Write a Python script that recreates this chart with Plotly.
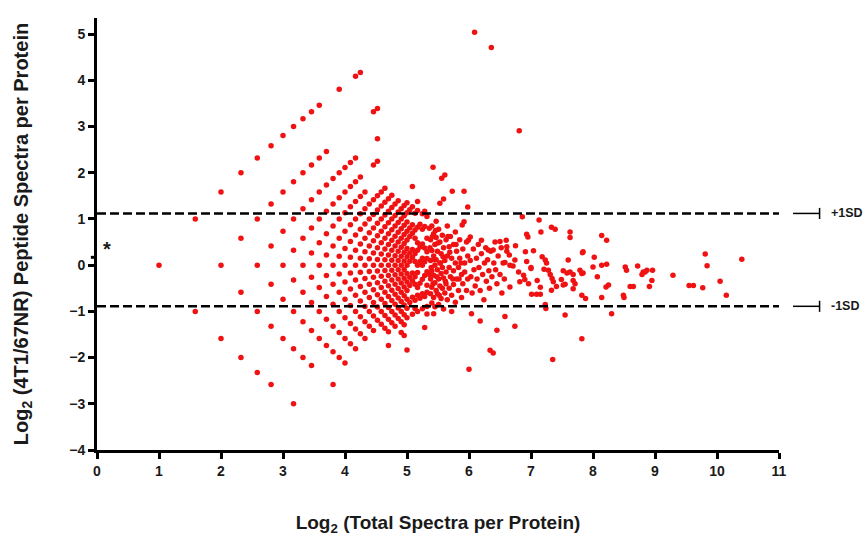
import numpy as np
import plotly.graph_objects as go

# ---- data: spectral-count lattice (total spectra, 4T1 spectra) ----
lattice_totals = [2, 3, 4, 5, 6, 7, 8, 9, 10, 11, 12, 13, 14, 15, 16, 17, 18, 19, 20,
                  21, 22, 23, 24, 25, 26, 27, 28, 29, 30, 31, 32, 33, 34, 35, 36, 37, 38, 39, 40]
lattice_4T1 = [
    [1],
    [2, 1],
    [3, 2, 1],
    [4, 3, 2, 1],
    [5, 4, 3, 2, 1],
    [6, 5, 4, 3, 2, 1],
    [7, 6, 5, 4, 3, 2],
    [8, 7, 6, 5, 4, 3, 2, 1],
    [9, 8, 7, 6, 5, 4, 3, 2],
    [10, 9, 8, 7, 6, 5, 4, 3, 2],
    [11, 10, 9, 8, 7, 6, 5, 4, 3],
    [11, 10, 9, 8, 7, 6, 5, 4, 3],
    [11, 10, 9, 8, 7, 6, 5, 4, 3, 2],
    [14, 12, 11, 10, 9, 8, 7, 6, 5, 4, 3],
    [13, 12, 11, 10, 9, 8, 7, 6, 5, 4, 3],
    [14, 13, 12, 11, 10, 9, 8, 7, 6, 5, 4],
    [17, 15, 14, 13, 12, 11, 10, 9, 8, 7, 6, 5, 4],
    [18, 15, 14, 13, 12, 11, 10, 9, 8, 7, 6, 5],
    [15, 14, 13, 12, 11, 10, 9, 8, 7, 6, 5],
    [15, 14, 13, 12, 11, 10, 9, 8, 7, 6],
    [20, 18, 16, 15, 14, 13, 12, 11, 10, 9, 8, 7, 6],
    [21, 20, 19, 17, 16, 15, 14, 13, 12, 11, 10, 9, 8, 7],
    [18, 17, 16, 15, 14, 13, 12, 11, 10, 9, 8, 7],
    [19, 18, 17, 16, 15, 14, 13, 12, 11, 10, 9, 8, 7],
    [19, 18, 17, 16, 15, 14, 13, 12, 11, 10, 9, 8, 7, 6],
    [20, 19, 18, 17, 16, 15, 14, 13, 12, 11, 10, 9, 8],
    [20, 19, 18, 17, 16, 15, 14, 13, 12, 11, 10, 9, 8],
    [21, 20, 19, 18, 17, 16, 15, 14, 13, 12, 11, 10, 9],
    [21, 20, 19, 18, 17, 16, 15, 14, 13, 12, 11, 10, 9, 8],
    [22, 21, 20, 19, 18, 17, 16, 15, 14, 13, 12, 11, 10, 9, 8],
    [23, 22, 21, 20, 19, 18, 17, 16, 15, 14, 13, 12, 11, 10, 7],
    [23, 21, 20, 18, 17, 15, 14, 12],
    [26, 24, 22, 21, 19, 18, 16, 15, 13, 11],
    [24, 22, 21, 19, 18, 16, 15, 13, 12],
    [26, 25, 23, 21, 20, 18, 17, 15, 14, 12],
    [24, 21, 19, 16, 14],
    [26, 24, 22, 20, 19, 17, 15, 13],
    [27, 25, 22, 20, 18, 15, 11],
    [27, 24, 22, 21, 19, 17, 16, 14, 13],
]

# ---- data: higher-abundance proteins, read directly as (log2 total, log2 ratio) ----
hi_log2_total = [
    5.38, 5.38, 5.38, 5.38, 5.40, 5.40, 5.40, 5.40, 5.40, 5.43, 5.43, 5.43, 5.43, 5.43,
    5.45, 5.45, 5.45, 5.45, 5.47, 5.47, 5.47, 5.47, 5.49, 5.49, 5.49, 5.51, 5.51, 5.51,
    5.53, 5.53, 5.53, 5.55, 5.55, 5.55, 5.57, 5.57, 5.57, 5.59, 5.59, 5.59, 5.61, 5.61,
    5.63, 5.63, 5.63, 5.65, 5.65, 5.65, 5.68, 5.68, 5.68, 5.70, 5.70, 5.72, 5.72, 5.72,
    5.75, 5.75, 5.75, 5.78, 5.78, 5.78, 5.80, 5.80, 5.83, 5.83, 5.85, 5.85, 5.88, 5.88,
    5.90, 5.90, 5.93, 5.93, 5.96, 5.96, 5.98, 5.98,
    5.36, 5.36, 5.37, 5.39, 5.41, 5.42, 5.44, 5.46, 5.48, 5.50, 5.52, 5.54, 5.58, 5.62,
    5.66, 5.69, 5.74, 5.79, 5.84, 5.87,
    5.42, 5.56, 5.61, 5.73, 5.92, 5.53, 5.59, 5.89, 5.92, 5.98,
    6.02, 5.99, 6.04, 6.18, 6.45, 6.34, 6.39, 6.00,
    6.02, 6.03, 6.05, 6.07, 6.08, 6.10, 6.12, 6.13, 6.15, 6.16, 6.18, 6.20, 6.22, 6.24,
    6.25, 6.27, 6.28, 6.30, 6.32, 6.33, 6.35, 6.37, 6.40, 6.42, 6.43, 6.45, 6.47, 6.50,
    6.52, 6.53, 6.55, 6.57, 6.50, 6.61, 6.31, 6.39, 6.20,
    6.60, 6.75, 6.65, 6.58, 6.71, 6.66, 6.58, 6.74, 6.66, 6.61, 6.74,
    6.86, 7.13, 7.16, 7.33, 7.39, 7.63, 7.63, 8.14, 8.22, 6.93, 6.95,
    6.91, 7.04, 6.93, 7.18, 7.23, 7.25, 7.00, 7.00, 6.80, 6.88, 6.90, 6.82, 7.10, 6.96,
    7.15, 7.01, 7.09, 7.15, 7.28, 7.31, 7.34, 7.36, 7.21, 7.33, 7.41, 7.60,
    7.52, 7.58, 7.63, 7.68, 7.52, 7.68, 7.71, 7.68, 7.79, 7.82, 7.84, 7.82, 7.88,
    7.83, 7.84, 8.02, 8.00, 8.07, 8.14, 8.22, 8.14, 8.21, 8.25, 7.55, 7.23, 7.24,
    7.82, 8.30, 8.49, 8.50, 8.52, 8.54, 8.60, 8.65, 8.72, 8.79, 8.81, 7.49, 7.55,
    8.84, 8.87, 8.96, 8.95, 8.91, 9.29, 9.55, 9.62, 9.77, 9.81, 9.84, 10.05, 10.15, 10.40,
    7.35, 6.09, 6.36, 6.81,
]
hi_log2_ratio = [
    0.55, 0.10, -0.30, -0.62, 0.85, 0.32, -0.12, -0.48, -0.82, 0.68, 0.20, -0.22, -0.70, -1.05,
    0.45, 0.00, -0.38, -0.90, 0.95, 0.60, 0.12, -0.55, 0.30, -0.10, -0.62, 0.78, -0.30, -0.85,
    0.50, 0.05, -0.45, 0.25, -0.18, -0.72, 0.65, -0.05, -0.50, 0.38, -0.28, -0.95, 0.10, -0.60,
    0.55, -0.15, -0.40, 0.85, 0.20, -0.75, 0.40, -0.05, -0.50, 0.62, -0.25, 0.15, -0.65, -1.00,
    0.45, -0.12, -0.42, 0.72, 0.05, -0.80, 0.30, -0.30, -0.05, -0.55, 0.55, 0.15, -0.20, -0.70,
    0.35, -0.40, 0.05, -0.15, 0.50, -0.55, -0.30, 0.20,
    0.80, -0.20, 0.38, -0.05, 0.62, -0.40, 0.12, 0.75, -0.25, 0.48, -0.65, 0.05, 0.18, -0.35,
    0.62, 0.28, -0.30, 0.45, -0.30, 0.05,
    2.12, 1.88, 1.95, 1.60, 1.60, 1.34, 1.43, 0.87, 0.94, 1.26,
    0.61, 0.54, -1.05, -1.21, -1.41, -1.84, -1.90, -2.25,
    0.10, -0.25, -0.60, 0.35, -0.10, -0.45, 0.15, -0.30, 0.45, -0.05, -0.55, 0.25, -0.20, -0.75,
    0.05, 0.38, -0.35, 0.12, -0.12, -0.50, 0.30, -0.25, 0.05, 0.50, -0.10, -0.40, 0.20, -0.20,
    0.38, -0.60, 0.05, -0.30, 0.51, 0.40, 0.33, 0.33, 0.54,
    0.54, 0.42, 0.22, 0.06, -0.02, -0.47, -1.11, -1.32, 0.00, 0.30, 0.11,
    1.05, 0.98, 0.72, 0.82, 0.78, 0.72, 0.60, 0.64, 0.54, 0.67, 0.61,
    0.29, 0.31, 0.08, 0.18, 0.11, 0.05, -0.05, -0.07, -0.15, -0.22, -0.31, -0.36, -0.33, -0.40,
    -0.48, -0.63, -0.63, -0.63, -0.11, -0.20, -0.29, -0.36, -0.09, -0.54, -0.46, 0.11,
    -0.12, -0.17, -0.15, -0.20, -0.43, -0.33, -0.40, -0.51, -0.11, -0.18, -0.17, -0.65, -0.72,
    0.27, 0.29, 0.17, -0.04, -0.25, 0.00, 0.02, -0.70, -0.47, -0.43, -1.08, -0.85, -0.94,
    -1.59, -1.05, -0.65, -0.70, -0.04, -0.11, -0.46, -0.46, -0.02, -0.20, -0.15, -0.31, -0.41,
    -0.15, -0.11, -0.11, -0.33, -0.46, -0.22, -0.44, -0.44, -0.49, 0.24, -0.01, -0.35, -0.65, 0.13,
    -2.04, 5.04, 4.71, 2.91,
]

sd_upper = 1.12
sd_lower = -0.89
x_ticks = [0, 1, 2, 3, 4, 5, 6, 7, 8, 9, 10, 11]
y_ticks = [-4, -3, -2, -1, 0, 1, 2, 3, 4, 5]

# ---- derive plotted coordinates from the counts ----
xs, ys = [], []
for n, row in zip(lattice_totals, lattice_4T1):
    for a in row:
        xs.append(float(np.log2(n)))
        ys.append(float(np.log2(a / (n - a))))
xs += hi_log2_total
ys += hi_log2_ratio

fig = go.Figure()
fig.add_trace(go.Scatter(
    x=xs, y=ys, mode="markers",
    marker=dict(size=5.5, color="rgb(240,18,18)", line=dict(width=0)),
    cliponaxis=False, hoverinfo="x+y",
))

FONT = "Liberation Sans, Arial, sans-serif"
INK = "#1a1a1a"
axis_common = dict(
    showline=True, linecolor="black", linewidth=3, mirror=False,
    ticks="outside", ticklen=6, tickwidth=3, tickcolor="black",
    showgrid=False, zeroline=False,
    tickfont=dict(family=FONT, size=14, color=INK, weight="bold"),
)

fig.update_layout(
    width=867, height=538,
    margin=dict(l=97, r=88, t=18, b=88, autoexpand=False),
    paper_bgcolor="white", plot_bgcolor="white",
    showlegend=False,
    xaxis=dict(
        range=[0, 11], tickvals=x_ticks, **axis_common,
        title=dict(text="Log<sub>2</sub> (Total Spectra per Protein)",
                   font=dict(family=FONT, size=19, color=INK, weight="bold"),
                   standoff=38),
    ),
    yaxis=dict(
        range=[-4, 5.35], tickvals=y_ticks, **axis_common,
        title=dict(text="Log<sub>2</sub> (4T1/67NR) Peptide Spectra per Protein",
                   font=dict(family=FONT, size=20, color=INK, weight="bold"),
                   standoff=36),
    ),
)

# dashed SD lines with end markers
for yv in (sd_upper, sd_lower):
    fig.add_shape(type="line", xref="x", yref="y", x0=0, x1=11, y0=yv, y1=yv,
                  line=dict(color="black", width=2.5, dash="9px,4px"))
    fig.add_shape(type="line", xref="paper", yref="y", x0=1.0205, x1=1.0595, y0=yv, y1=yv,
                  line=dict(color="black", width=1.5))
    fig.add_shape(type="line", xref="paper", yref="y", x0=1.0595, x1=1.0595,
                  y0=yv - 0.12, y1=yv + 0.12, line=dict(color="black", width=1.5))

fig.add_annotation(xref="paper", yref="y", x=1.073, y=sd_upper, text="+1SD",
                   showarrow=False, xanchor="left", yanchor="middle",
                   font=dict(family=FONT, size=12.5, color=INK, weight="bold"))
fig.add_annotation(xref="paper", yref="y", x=1.073, y=sd_lower, text="-1SD",
                   showarrow=False, xanchor="left", yanchor="middle",
                   font=dict(family=FONT, size=12.5, color=INK, weight="bold"))

# asterisk and extra tick near zero
fig.add_annotation(xref="x", yref="y", x=0.16, y=0.36, text="*", showarrow=False,
                   font=dict(family=FONT, size=20, color=INK, weight="bold"))
fig.add_shape(type="line", xref="paper", yref="y", x0=-0.009, x1=0, y0=0.17, y1=0.17,
              line=dict(color="black", width=3))

# remove the browser's default 8px body margin so the figure fills the window exactly
fig.write_html("out.html",
               config={"displayModeBar": False},
               post_script="document.body.style.margin='0px';document.body.style.overflow='hidden';")
